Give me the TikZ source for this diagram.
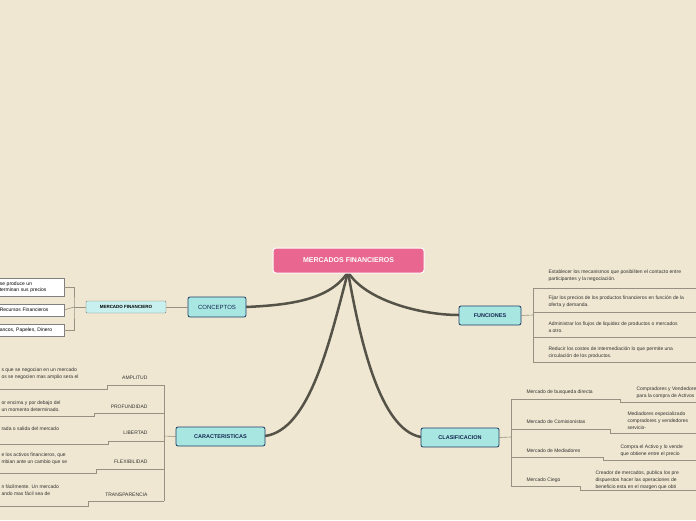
\documentclass[tikz,border=0pt]{standalone}
\usepackage{fontspec}
\setmainfont{Liberation Sans}
\begin{document}
\begin{tikzpicture}[x=1pt,y=-1pt,
 main/.style={draw=white,line width=1pt,fill={rgb,255:red,232;green,102;blue,143},rounded corners=3pt,text=white,font=\bfseries\fontsize{7}{8}\selectfont,minimum width=151pt,minimum height=25pt},
 topic/.style={draw={rgb,255:red,30;green,60;blue,100},line width=0.8pt,fill={rgb,255:red,168;green,230;blue,226},rounded corners=2pt,font=\fontsize{6}{7}\selectfont,text={rgb,255:red,20;green,40;blue,80}},
 sub/.style={draw=gray,fill={rgb,255:red,200;green,240;blue,238},rounded corners=1pt,font=\bfseries\fontsize{4.5}{5}\selectfont,minimum width=80pt,minimum height=12pt},
 wbox/.style={draw=gray,fill=white,font=\fontsize{5}{6.5}\selectfont,align=left,anchor=east,inner sep=2pt},
 lbl/.style={font=\fontsize{5}{7}\selectfont,text={rgb,255:red,50;green,50;blue,50},align=left},
 trunk/.style={draw={rgb,255:red,85;green,82;blue,72},line width=2.5pt,line cap=round},
 br/.style={draw={rgb,255:red,150;green,145;blue,130},line width=0.6pt}]
\fill[fill={rgb,255:red,239;green,231;blue,209}] (0,0) rectangle (696,520);
\useasboundingbox (0,0) rectangle (696,520);
\coordinate (c) at (348,272);
\draw[trunk] (c) .. controls (330,300) and (290,305) .. (246,307);
\draw[trunk] (c) .. controls (365,300) and (420,315) .. (459,315);
\draw[trunk] (c) .. controls (330,340) and (310,430) .. (265,436);
\draw[trunk] (c) .. controls (360,340) and (380,430) .. (421,437);
\node[main] (m) at (348.5,260.5) {MERCADOS FINANCIEROS};
\node[topic,minimum width=58pt,minimum height=20pt] (con) at (217,307) {CONCEPTOS};
\node[topic,minimum width=62pt,minimum height=19pt,font=\bfseries\fontsize{5.5}{7}\selectfont] (fun) at (490,315.5) {FUNCIONES};
\node[topic,minimum width=89pt,minimum height=19pt,font=\bfseries\fontsize{5.5}{7}\selectfont] (car) at (220.5,436.5) {CARACTERISTICAS};
\node[topic,minimum width=78pt,minimum height=19pt,font=\bfseries\fontsize{5.5}{7}\selectfont] (cla) at (460,437.5) {CLASIFICACION};
% conceptos
\node[sub] (mf) at (126,307) {MERCADO FINANCIERO};
\draw[br] (con.west) -- (mf.east);
\node[wbox,text width=62pt,minimum height=18pt] (w1) at (64,287) {se produce un\\terminan sus precios};
\node[wbox,text width=62pt,minimum height=12pt] (w2) at (64,310) {Recursos Financieros};
\node[wbox,text width=62pt,minimum height=12pt] (w3) at (64,330) {ancos, Papeles, Dinero};
\coordinate (j) at (74,307);
\draw[br] (mf.west) -- (j);
\draw[br] (w1.east) -| (j) |- (w3.east);
\draw[br] (w2.east) -- (j);
% funciones
\coordinate (fj) at (533,315);
\draw[br] (fun.east) -- (fj);
\draw[br] (696,288) -- (533,288) -- (533,362) -- (696,362);
\draw[br] (533,312) -- (696,312);
\draw[br] (533,337) -- (696,337);
\node[lbl,anchor=west] (f1) at (545,276) {Establecer los mecanismos que posibiliten el contacto entre\\participantes y la negociación.};
\node[lbl,anchor=west] (f2) at (545,302) {Fijar los precios de los productos financieros en función de la\\oferta y demanda.};
\node[lbl,anchor=west] (f3) at (545,327) {Administrar los flujos de liquidez de productos o mercados\\a otro.};
\node[lbl,anchor=west] (f4) at (545,353) {Reducir los costes de intermediación lo que permite una\\circulación de los productos.};
% clasificacion
\draw[br] (cla.east) -- (511,437);
\draw[br] (511,399) -- (511,486);
\node[lbl,anchor=west] (k1) at (523,392) {Mercado de busqueda directa};
\node[lbl,anchor=west] (k2) at (523,422) {Mercado de Comisionistas};
\node[lbl,anchor=west] (k3) at (523,451) {Mercado de Mediadores};
\node[lbl,anchor=west] (k4) at (523,480) {Mercado Ciego};
\draw[br] (511,399) -- (620,399) -- (620,402) -- (696,402);
\draw[br] (511,429) -- (610,429) -- (610,433) -- (696,433);
\draw[br] (511,457) -- (603,457) -- (603,460) -- (696,460);
\draw[br] (511,486) -- (580,486) -- (580,490) -- (696,490);
\node[lbl,anchor=west] (d1) at (633,393) {Compradores y Vendedores\\para la compra de Activos};
\node[lbl,anchor=west] (d2) at (624,421) {Mediadores especializado\\compradores y vendedores\\servicio-};
\node[lbl,anchor=west] (d3) at (617,451) {Compra el Activo y lo vende\\que obtiene entre el precio};
\node[lbl,anchor=west] (d4) at (592,480) {Creador de mercados, publica los pre\\dispuestos hacer las operaciones de\\beneficio esta en el margen que obti};
% caracteristicas
\draw[br] (car.west) -- (164,436);
\draw[br] (164,385) -- (164,501);
\node[lbl,anchor=east] (a1) at (151,378) {AMPLITUD};
\node[lbl,anchor=east] (a2) at (151,407) {PROFUNDIDAD};
\node[lbl,anchor=east] (a3) at (151,433) {LIBERTAD};
\node[lbl,anchor=east] (a4) at (151,462) {FLEXIBILIDAD};
\node[lbl,anchor=east] (a5) at (151,495) {TRANSPARENCIA};
\draw[br] (164,385) -- (107,385) -- (107,389) -- (0,389);
\draw[br] (164,413) -- (94,413) -- (94,416) -- (0,416);
\draw[br] (164,441) -- (108,441) -- (108,444) -- (0,444);
\draw[br] (164,469) -- (96,469) -- (96,473) -- (0,473);
\draw[br] (164,501) -- (88,501) -- (88,506) -- (0,506);
\node[lbl,anchor=west] (e1) at (-2,374) {s que se negocian en un mercado\\os se negocien mas amplio sera el};
\node[lbl,anchor=west] (e2) at (-2,406) {or encima y por debajo del\\un momento determinado.};
\node[lbl,anchor=west] (e3) at (-2,429) {rada o salida del mercado};
\node[lbl,anchor=west] (e4) at (-2,459) {e los activos financieros, que\\mbian ante un cambio que se};
\node[lbl,anchor=west] (e5) at (-2,490) {n fácilmente.  Un mercado\\ando mas fácil sea de};
\end{tikzpicture}
\end{document}
